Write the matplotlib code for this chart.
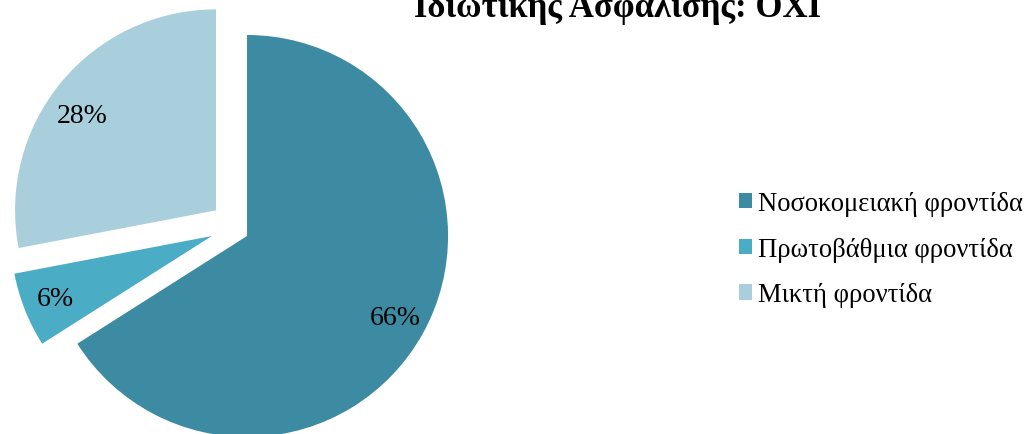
import matplotlib
matplotlib.use("Agg")
import matplotlib.pyplot as plt
from matplotlib.patches import Patch

# Κατανομή φροντίδας - χωρίς ιδιωτική ασφάλιση
katigories = ["Νοσοκομειακή φροντίδα", "Πρωτοβάθμια φροντίδα", "Μικτή φροντίδα"]
pososta = [66, 6, 28]
xromata = ["#3d8ba2", "#4bacc6", "#a9cfdc"]
explode = [0, 0, 0.2]

plt.rcParams["font.family"] = ["Liberation Serif", "DejaVu Serif"]

fig = plt.figure(figsize=(10.33, 4.35), dpi=100)
ax = fig.add_axes([0, 0, 1, 1])

wedges, texts, autotexts = ax.pie(
    pososta, colors=xromata, explode=explode, startangle=90,
    counterclock=False, radius=1, autopct="%1.0f%%", pctdistance=0.84,
    textprops={"fontsize": 20, "color": "black"},
    wedgeprops={"linewidth": 0},
)

# to mikro kommati trabietai pros ta aristera
dx = -0.175
wedges[1].set_center((dx, 0))
x, y = autotexts[1].get_position()
autotexts[1].set_position((x + dx, y))

# to 28% ligo pio xamila
x, y = autotexts[2].get_position()
autotexts[2].set_position((x - 0.02, y - 0.065))

ax.set_aspect("equal")
ax.set_xlim(-1.229, 3.910)
ax.set_ylim(-0.985, 1.179)
ax.axis("off")

# titlos (h proti grammi den xoraei sto kadro)
fig.text(0.598, 0.962, "Ιδιωτικής Ασφάλισης: ΟΧΙ", ha="center", va="baseline",
         fontsize=25, fontweight="bold")

handles = [Patch(facecolor=c, edgecolor="none") for c in xromata]
fig.legend(handles, katigories, loc="center left", bbox_to_anchor=(0.692, 0.425),
           frameon=False, fontsize=19.2, handlelength=0.5, handleheight=0.5,
           handletextpad=0.2, labelspacing=0.78)

fig.savefig("out.png", dpi=100)
